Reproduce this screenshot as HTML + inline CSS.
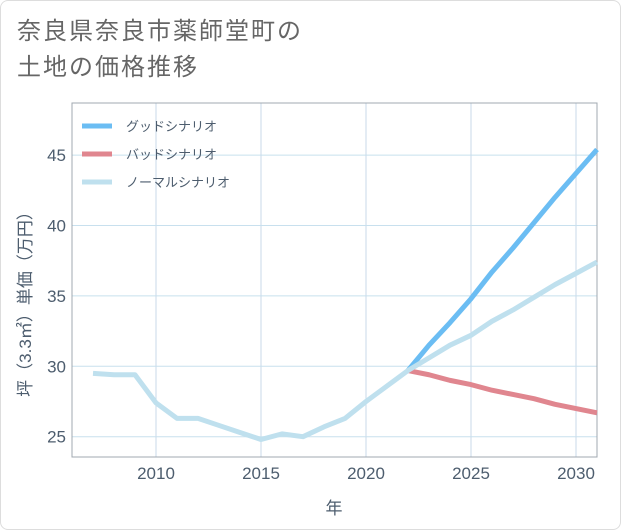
<!DOCTYPE html>
<html><head><meta charset="utf-8"><style>
body{margin:0;background:#fff;}
.card{position:absolute;left:0;top:0;width:619px;height:528px;border:1px solid #ddd;border-radius:8px;background:#fff;}
.title{position:absolute;left:17px;top:14px;font:24px/36px "Liberation Sans","Noto Sans CJK JP",sans-serif;color:#666;letter-spacing:2px;}
svg text{font-family:"Liberation Sans","Noto Sans CJK JP",sans-serif;}
</style></head><body>
<div class="card"></div>
<div class="title">奈良県奈良市薬師堂町の<br>土地の価格推移</div>
<svg id="chart" width="621" height="530" style="position:absolute;left:0;top:0"></svg>
<script>
const years=[2007,2008,2009,2010,2011,2012,2013,2014,2015,2016,2017,2018,2019,2020,2021,2022,2023,2024,2025,2026,2027,2028,2029,2030,2031];
const normalVals=[29.5,29.4,29.4,27.4,26.3,26.3,25.8,25.3,24.8,25.2,25.0,25.7,26.3,27.5,28.6,29.7,30.6,31.5,32.2,33.2,34.0,34.9,35.8,36.6,37.4];
const futureYears=[2022,2023,2024,2025,2026,2027,2028,2029,2030,2031];
const goodVals=[29.7,31.5,33.1,34.8,36.7,38.4,40.2,42.0,43.7,45.4];
const badVals=[29.7,29.4,29.0,28.7,28.3,28.0,27.7,27.3,27.0,26.7];
const xTicks=[2010,2015,2020,2025,2030];
const yTicks=[25,30,35,40,45];
const legendLabels=["グッドシナリオ","バッドシナリオ","ノーマルシナリオ"];
const L=72,R=597,T=103,B=457;
const X=v=>L+(v-2006)*(R-L)/25;
const Y=v=>436.7-(v-25)*14.08;
const svg=document.getElementById('chart');
const NS='http://www.w3.org/2000/svg';
const TC='#4d5d6e';
function mk(t,a){const e=document.createElementNS(NS,t);for(const k in a)e.setAttribute(k,a[k]);svg.appendChild(e);return e;}
for(const t of xTicks){
 const g=mk('line',{x1:X(t),x2:X(t),y1:T,y2:B,stroke:'#c8d8e8','stroke-width':1});
 
 
 const tx=mk('text',{x:X(t),y:479,'text-anchor':'middle','font-size':17,fill:TC});tx.textContent=t;
 
 
}
for(const t of yTicks){
 const g=mk('line',{x1:L,x2:R,y1:Y(t),y2:Y(t),stroke:'#c8e0ee','stroke-width':1});
 
 
 const tx=mk('text',{x:66,y:Y(t)+6,'text-anchor':'end','font-size':17,fill:TC});tx.textContent=t;
 
 
}
const frame=mk('rect',{x:L,y:T,width:R-L,height:B-T,fill:'none',stroke:'#a0a8b0','stroke-width':1});


function line(xs,vs,color,name){
 const p=mk('polyline',{points:xs.map((x,i)=>X(x)+','+Y(vs[i])).join(' '),fill:'none',stroke:color,'stroke-width':5,'stroke-linejoin':'round'});
 
 
}
line(futureYears,badVals,'#e0868f','bad-scenario-line');
line(futureYears,goodVals,'#6bbdf3','good-scenario-line');
line(years,normalVals,'#bfe0ee','normal-scenario-line');
const lc=['#6bbdf3','#e0868f','#bfe0ee'];
legendLabels.forEach((lab,i)=>{
 const y=126+i*28;
 const l=mk('line',{x1:82,x2:112,y1:y,y2:y,stroke:lc[i],'stroke-width':5});
 
 
 const t=mk('text',{x:126,y:y+5,'font-size':13,fill:TC});t.textContent=lab;
 
 
});
const xt=mk('text',{x:334,y:514,'text-anchor':'middle','font-size':17,fill:TC});xt.textContent='年';


const yt=mk('text',{x:0,y:0,'text-anchor':'middle','font-size':17,fill:TC,transform:'translate(31,300) rotate(-90)'});yt.textContent='坪（3.3㎡）単価（万円）';


</script>
</body></html>
